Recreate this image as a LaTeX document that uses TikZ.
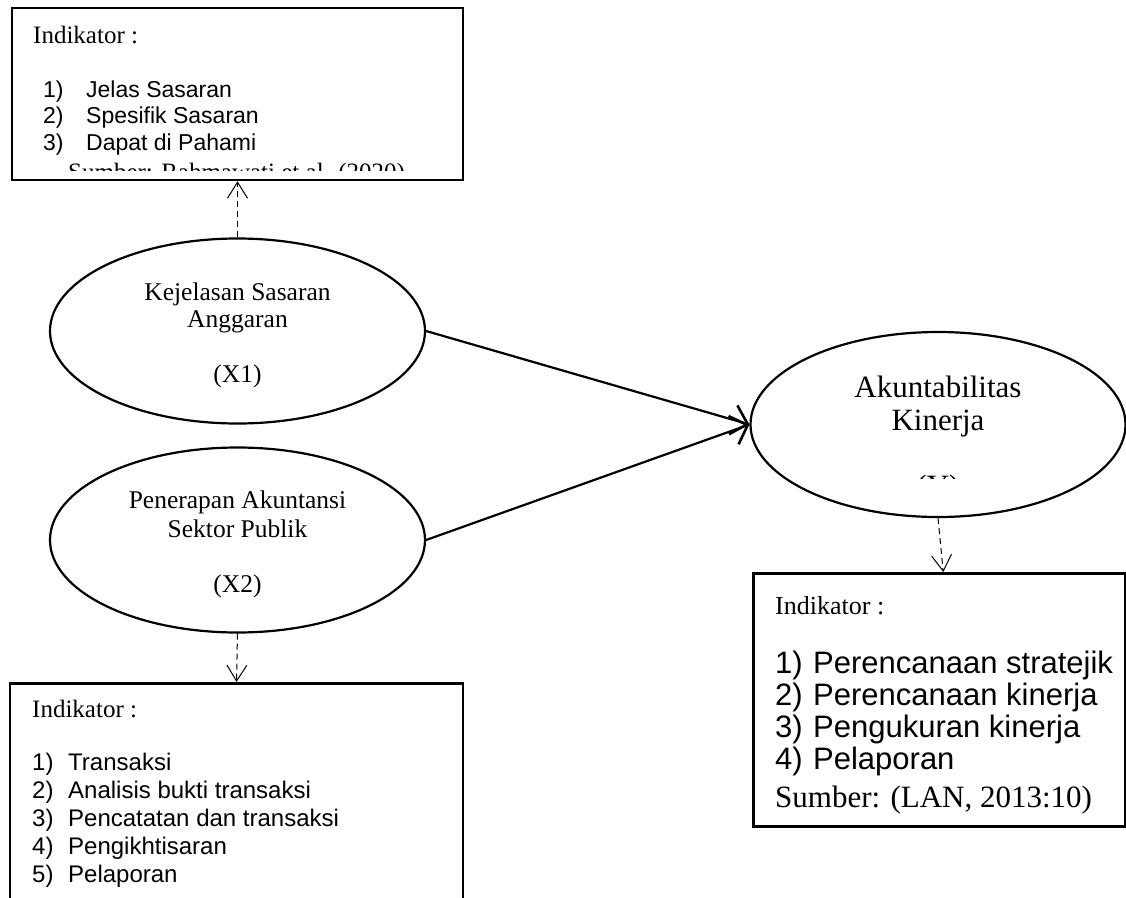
\documentclass[tikz,border=0pt]{standalone}
\usepackage{fontspec}
\setmainfont{Liberation Serif}
\newfontfamily\arialf{Liberation Sans}
\usetikzlibrary{shapes.geometric,arrows.meta}
\begin{document}
\begin{tikzpicture}[x=1pt,y=-1pt,
  ell/.style={draw,line width=2.2pt,ellipse,minimum width=375pt,minimum height=185pt,inner sep=0pt},
  box/.style={draw,line width=2.5pt,rectangle,inner sep=0pt},
  txt/.style={inner sep=0pt,font=\fontsize{25.5}{30}\selectfont},
  itxt/.style={inner sep=0pt,anchor=base west,font=\fontsize{25}{30}\selectfont},
  bigtxt/.style={inner sep=0pt,font=\fontsize{31}{36}\selectfont},
  itm/.style={inner sep=0pt,anchor=base west,font=\arialf\fontsize{23}{27}\selectfont},
  itmb/.style={inner sep=0pt,anchor=base west,font=\arialf\fontsize{24}{28}\selectfont},
  itmc/.style={inner sep=0pt,anchor=base west,font=\arialf\fontsize{31}{35}\selectfont},
  main/.style={line width=2.2pt,-{Straight Barb[length=15pt,width=30pt,line width=2.6pt]}},
  dsh/.style={line width=1pt,dash pattern=on 6pt off 4pt,-{Straight Barb[length=16pt,width=20pt,line width=1pt]}}
]
\useasboundingbox (0,0) rectangle (1126,897);
\clip (0,0) rectangle (1126,897);
% boxes
\node[box,minimum width=451pt,minimum height=172pt] (tbox) at (237.5,94) {};
\node[box,minimum width=453pt,minimum height=260pt,anchor=north] (lbox) at (236.5,682) {};
\node[box,minimum width=372pt,minimum height=253pt,anchor=north west] (rbox) at (752,572) {};
% ellipses
\node[ell] (x1) at (237.5,331) {};
\node[ell] (x2) at (237.5,540) {};
\node[ell] (y) at (938,424.5) {};
% ellipse texts
\node[txt,anchor=base] (x1a) at (237.5,300) {Kejelasan Sasaran};
\node[txt,anchor=base] (x1b) at (237.5,327) {Anggaran};
\node[txt,anchor=base] (x1c) at (237.5,382) {(X1)};
\node[txt,anchor=base] (x2a) at (237.5,508) {Penerapan Akuntansi};
\node[txt,anchor=base] (x2b) at (237.5,537) {Sektor Publik};
\node[txt,anchor=base] (x2c) at (237.5,592) {(X2)};
\node[bigtxt,anchor=base] (ya) at (938,397) {Akuntabilitas};
\node[bigtxt,anchor=base] (yb) at (938,430) {Kinerja};
\begin{scope}
\clip (800,440) rectangle (1080,478);
\node[bigtxt,anchor=base] (yc) at (938,496) {(Y)};
\end{scope}
% top box texts
\node[itxt] (ti) at (33,43) {Indikator :};
\node[itm] (t1) at (43,97) {\makebox[43pt][l]{1)}Jelas Sasaran};
\node[itm] (t2) at (43,123) {\makebox[43pt][l]{2)}Spesifik Sasaran};
\node[itm] (t3) at (43,150) {\makebox[43pt][l]{3)}Dapat di Pahami};
\begin{scope}
\clip (20,150) rectangle (455,170);
\node[itxt] (ts) at (68,180) {Sumber: Rahmawati et al. (2020)};
\end{scope}
% left box texts
\node[itxt] (li) at (32,717) {Indikator :};
\node[itmb] (l1) at (32,770) {\makebox[36pt][l]{1)}Transaksi};
\node[itmb] (l2) at (32,798) {\makebox[36pt][l]{2)}Analisis bukti transaksi};
\node[itmb] (l3) at (32,826) {\makebox[36pt][l]{3)}Pencatatan dan transaksi};
\node[itmb] (l4) at (32,854) {\makebox[36pt][l]{4)}Pengikhtisaran};
\node[itmb] (l5) at (32,882) {\makebox[36pt][l]{5)}Pelaporan};
% right box texts
\node[itxt,font=\fontsize{26}{31}\selectfont] (ri) at (775,614) {Indikator :};
\node[itmc] (r1) at (775,673) {\makebox[38pt][l]{1)}Perencanaan stratejik};
\node[itmc] (r2) at (775,705) {\makebox[38pt][l]{2)}Perencanaan kinerja};
\node[itmc] (r3) at (775,737) {\makebox[38pt][l]{3)}Pengukuran kinerja};
\node[itmc] (r4) at (775,769) {\makebox[38pt][l]{4)}Pelaporan};
\node[itxt,font=\fontsize{31}{35}\selectfont] (rs) at (775,807) {Sumber: (LAN, 2013:10)};
% connectors
\draw[main] (x1.east) -- (y.west);
\draw[main] (x2.east) -- (y.west);
\draw[dsh] (x1.north) -- (tbox.south);
\draw[dsh] (x2.south) -- (lbox.north);
\draw[dsh] (y.south) -- ([xshift=4pt]rbox.north);
\end{tikzpicture}
\end{document}
